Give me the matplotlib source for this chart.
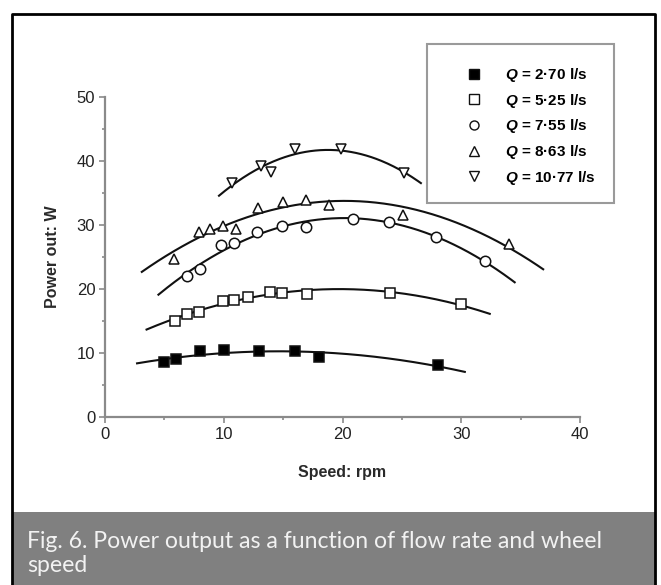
import numpy as np
import matplotlib
matplotlib.use("Agg")
import matplotlib.pyplot as plt
from matplotlib.patches import Rectangle
from matplotlib.lines import Line2D

# valores
labels = [r"$\mathbfit{Q}$ = 2·70 l/s", r"$\mathbfit{Q}$ = 5·25 l/s",
          r"$\mathbfit{Q}$ = 7·55 l/s", r"$\mathbfit{Q}$ = 8·63 l/s",
          r"$\mathbfit{Q}$ = 10·77 l/s"]
markers = ["s", "s", "o", "^", "v"]
fills = ["black", "white", "white", "white", "white"]

x_q1 = [5, 6, 8, 10, 13, 16, 18, 28]
y_q1 = [8.6, 9.0, 10.3, 10.5, 10.3, 10.3, 9.4, 8.1]
x_q2 = [5.9, 6.9, 7.9, 9.9, 10.9, 12, 13.9, 14.9, 17, 24, 30]
y_q2 = [15.0, 16.1, 16.4, 18.2, 18.3, 18.8, 19.5, 19.3, 19.2, 19.4, 17.6]
x_q3 = [6.9, 8, 9.8, 10.9, 12.8, 14.9, 16.9, 20.9, 23.9, 27.9, 32]
y_q3 = [22.1, 23.2, 26.9, 27.2, 28.9, 29.8, 29.7, 30.9, 30.5, 28.2, 24.3]
x_q4 = [5.8, 7.9, 8.8, 9.9, 11, 12.9, 15, 16.9, 18.9, 25.1, 34]
y_q4 = [24.7, 28.9, 29.4, 29.8, 29.4, 32.6, 33.6, 33.9, 33.2, 31.5, 27.0]
x_q5 = [10.7, 13.1, 14, 16, 19.9, 25.2]
y_q5 = [36.6, 39.2, 38.3, 41.8, 41.9, 38.1]

# rango de cada curva de ajuste
x_range = [(2.7, 30.3), (3.5, 32.4), (4.5, 34.5), (3.1, 36.9), (9.6, 26.6)]

xs = [x_q1, x_q2, x_q3, x_q4, x_q5]
ys = [y_q1, y_q2, y_q3, y_q4, y_q5]

plt.rcParams['font.family'] = ['Liberation Sans', 'DejaVu Sans']
plt.rcParams['mathtext.fontset'] = 'custom'
plt.rcParams['mathtext.bfit'] = 'Liberation Sans:bold:italic'

fig = plt.figure(figsize=(6.61, 5.85), dpi=100)
W, H = 661, 585

# marco y banda del pie
fig.add_artist(Rectangle((12 / W, 0), (655 - 12) / W, (585 - 512) / H,
                         transform=fig.transFigure, facecolor='#808080',
                         edgecolor='none'))
fig.add_artist(Line2D([12 / W, 12 / W, 655 / W, 655 / W],
                      [0, 1 - 14 / H, 1 - 14 / H, 0],
                      transform=fig.transFigure, color='black', lw=2.0))

ax = fig.add_axes([105 / W, 1 - 417 / H, (580 - 105) / W, (417 - 97) / H])

for x, y, (a, b), m, f in zip(xs, ys, x_range, markers, fills):
    c = np.polyfit(x, y, 2)
    xx = np.linspace(a, b, 200)
    ax.plot(xx, np.polyval(c, xx), color='#111111', lw=1.5, zorder=2)
    ax.plot(x, y, linestyle='none', marker=m, markersize=7.5,
            markerfacecolor=f, markeredgecolor='#111111',
            markeredgewidth=1.1, zorder=3)

ax.set_xlim(0, 40)
ax.set_ylim(0, 50)
ax.set_xticks([0, 10, 20, 30, 40])
ax.set_yticks([0, 10, 20, 30, 40, 50])
ax.set_xticks([5, 15, 25, 35], minor=True)
ax.set_yticks([5, 15, 25, 35, 45], minor=True)
for s in ['top', 'right']:
    ax.spines[s].set_visible(False)
for s in ['left', 'bottom']:
    ax.spines[s].set_color('#8a8a8a')
    ax.spines[s].set_linewidth(1.6)
ax.tick_params(which='both', direction='out', color='#8a8a8a', width=1.2)
ax.tick_params(which='major', length=4, labelsize=12, labelcolor='#222222', pad=3)
ax.tick_params(which='minor', length=2.5)
ax.set_xlabel("Speed: rpm", fontsize=11.5, fontweight='bold', color='#2a2a2a',
              labelpad=17)
ax.set_ylabel("Power out: W", fontsize=11.5, fontweight='bold', color='#2a2a2a',
              labelpad=12)
ax.patch.set_visible(False)

# leyenda
fig.add_artist(Rectangle((427 / W, 1 - 203 / H), (614 - 427) / W, (203 - 44) / H,
                         transform=fig.transFigure, facecolor='white',
                         edgecolor='#9a9a9a', lw=1.5, zorder=5))
handles = [Line2D([], [], linestyle='none', marker=m, markersize=6.5,
                  markerfacecolor=f, markeredgecolor='#111111',
                  markeredgewidth=1.0) for m, f in zip(markers, fills)]
leg = fig.legend(handles, labels, loc='upper left',
                 bbox_to_anchor=(453 / W, 1 - 60 / H), frameon=False,
                 prop={'size': 11, 'weight': 'bold'}, labelspacing=0.5,
                 handletextpad=1.0, borderaxespad=0)
leg.set_zorder(6)

fig.text(27 / W, 1 - 541 / H, "Fig. 6. Power output as a function of flow rate and wheel",
         fontsize=16.6, family='Lato', color='#f2f2f2', va='center')
fig.text(27 / W, 1 - 566 / H, "speed", fontsize=16.6, family='Lato',
         color='#f2f2f2', va='center')

fig.savefig("out.png", dpi=100)
